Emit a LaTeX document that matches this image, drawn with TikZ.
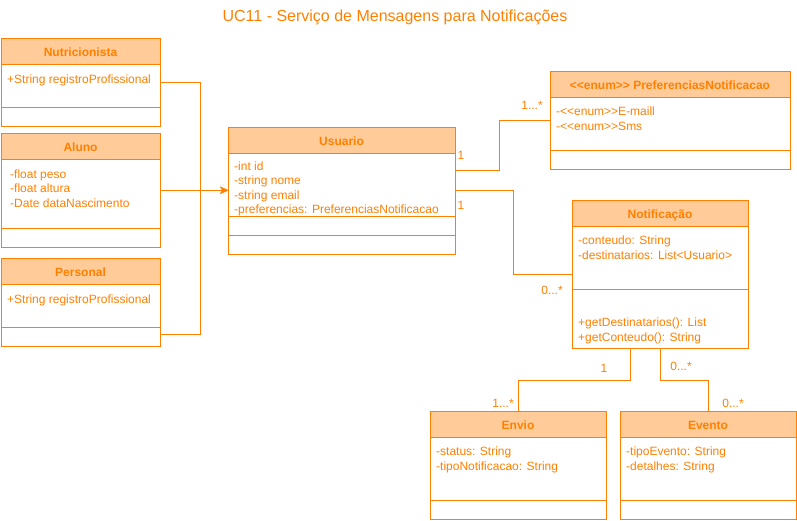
\documentclass[tikz,border=0pt]{standalone}
\usepackage{fontspec}
\setmainfont{Liberation Sans}
\usepackage{xcolor}
\usepackage{tikz}
\usetikzlibrary{positioning,arrows.meta,calc}

\definecolor{umlorange}{HTML}{FF8000}
\definecolor{umlfill}{HTML}{FFCC99}

\begin{document}
\begin{tikzpicture}[
    x=1pt, y=-1pt,
    node distance=0pt,
    every node/.style={text=umlorange, font=\fontsize{12}{14.5}\selectfont},
    classhead/.style={rectangle, draw=umlorange, fill=umlfill, line width=1pt, inner sep=0pt, outer sep=0pt, minimum height=26pt, text height=10pt, text depth=0pt, anchor=north west, font=\fontsize{12}{14.5}\selectfont\bfseries},
    classbody/.style={rectangle, draw=umlorange, fill=white, line width=1pt, inner sep=0pt, outer sep=0pt},
    members/.style={anchor=north west, align=left, inner sep=0pt},
    mult/.style={inner sep=0pt},
    assoc/.style={draw=umlorange, line width=1pt},
    inherit/.style={assoc, -{Stealth[length=8pt, width=7pt, inset=2.5pt]}}
]
\useasboundingbox (0,0) rectangle (797,520);

% Title
\node[font=\fontsize{16}{19}\selectfont, anchor=base] (title) at (395,21) {UC11 - Serviço de Mensagens para Notificações};

% Nutricionista
\node[classhead, minimum width=159pt] (nutri-head) at (1,38) {Nutricionista};
\node[classbody, minimum width=159pt, minimum height=43pt, below=of nutri-head] (nutri-attr) {};
\node[classbody, minimum width=159pt, minimum height=19pt, below=of nutri-attr] (nutri-ops) {};
\node[members] (nutri-txt) at ([shift={(6,10.5)}]nutri-attr.north west) {+String registroProfissional};

% Aluno
\node[classhead, minimum width=159pt] (aluno-head) at (1,133) {Aluno};
\node[classbody, minimum width=159pt, minimum height=69pt, below=of aluno-head] (aluno-attr) {};
\node[classbody, minimum width=159pt, minimum height=19pt, below=of aluno-attr] (aluno-ops) {};
\node[members] (aluno-txt) at ([shift={(9,10.5)}]aluno-attr.north west) {-float peso\\-float altura\\-Date dataNascimento};

% Personal
\node[classhead, minimum width=159pt] (personal-head) at (1,258) {Personal};
\node[classbody, minimum width=159pt, minimum height=43pt, below=of personal-head] (personal-attr) {};
\node[classbody, minimum width=159pt, minimum height=19pt, below=of personal-attr] (personal-ops) {};
\node[members] (personal-txt) at ([shift={(6,10.5)}]personal-attr.north west) {+String registroProfissional};

% Usuario
\node[classhead, minimum width=227pt] (usuario-head) at (228,127) {Usuario};
\node[classbody, minimum width=227pt, minimum height=63pt, below=of usuario-head] (usuario-attr) {};
\node[classbody, minimum width=227pt, minimum height=19pt, below=of usuario-attr] (usuario-mid) {};
\node[classbody, minimum width=227pt, minimum height=19pt, below=of usuario-mid] (usuario-ops) {};
\node[members] (usuario-txt) at ([shift={(6,8.5)}]usuario-attr.north west) {-int id\\-string nome\\-string email\\-preferencias: PreferenciasNotificacao};

% PreferenciasNotificacao
\node[classhead, minimum width=240pt] (pref-head) at (550,71) {<\kern0pt<enum>\kern0pt> PreferenciasNotificacao};
\node[classbody, minimum width=240pt, minimum height=53pt, below=of pref-head] (pref-attr) {};
\node[classbody, minimum width=240pt, minimum height=19pt, below=of pref-attr] (pref-ops) {};
\node[members] (pref-txt) at ([shift={(6,10)}]pref-attr.north west) {-<\kern0pt<enum>\kern0pt>E-maill\\-<\kern0pt<enum>\kern0pt>Sms};

% Notificacao
\node[classhead, minimum width=176pt] (notif-head) at (572,200) {Notificação};
\node[classbody, minimum width=176pt, minimum height=63pt, below=of notif-head] (notif-attr) {};
\node[classbody, minimum width=176pt, minimum height=59pt, below=of notif-attr] (notif-ops) {};
\node[members] (notif-txt) at ([shift={(6,10)}]notif-attr.north west) {-conteudo: String\\-destinatarios: List<Usuario>};
\node[members] (notif-meth) at ([shift={(6,29)}]notif-ops.north west) {+getDestinatarios(): List\\+getConteudo(): String};

% Envio
\node[classhead, minimum width=176pt] (envio-head) at (430,411) {Envio};
\node[classbody, minimum width=176pt, minimum height=63pt, below=of envio-head] (envio-attr) {};
\node[classbody, minimum width=176pt, minimum height=19pt, below=of envio-attr] (envio-ops) {};
\node[members] (envio-txt) at ([shift={(6,10)}]envio-attr.north west) {-status: String\\-tipoNotificacao: String};

% Evento
\node[classhead, minimum width=176pt] (evento-head) at (620,411) {Evento};
\node[classbody, minimum width=176pt, minimum height=63pt, below=of evento-head] (evento-attr) {};
\node[classbody, minimum width=176pt, minimum height=19pt, below=of evento-attr] (evento-ops) {};
\node[members] (evento-txt) at ([shift={(6,10)}]evento-attr.north west) {-tipoEvento: String\\-detalhes: String};

% Side points of the classes
\coordinate (nutri-e) at ($(nutri-head.north east)!.5!(nutri-ops.south east)$);
\coordinate (aluno-e) at ($(aluno-head.north east)!.5!(aluno-ops.south east)$);
\coordinate (usuario-w) at ($(usuario-head.north west)!.5!(usuario-ops.south west)$);
\coordinate (usuario-e) at ($(usuario-head.north east)!.5!(usuario-ops.south east)$);
\coordinate (pref-w) at ($(pref-head.north west)!.5!(pref-ops.south west)$);
\coordinate (notif-w) at ($(notif-head.north west)!.5!(notif-ops.south west)$);

% Generalisation
\draw[inherit] (nutri-e) -- ++(40,0) |- (usuario-w);
\draw[inherit] (aluno-e) -- (aluno-e -| usuario-w);
\draw[inherit] ([yshift=2pt]personal-ops.east) -- ++(40,0) |- (usuario-w);

% Associations
\draw[assoc] ([yshift=20pt]usuario-e) -- ++(44,0) |- (pref-w);
\draw[assoc] (usuario-e) -- ++(58,0) |- (notif-w);
\draw[assoc] ([xshift=-30pt]notif-ops.south) -- ++(0,32) -| (envio-head.north);
\draw[assoc] (notif-ops.south) -- ++(0,32) -| (evento-head.north);

% Multiplicities
\node[mult] (m-usr-pref) at (461,155) {1};
\node[mult] (m-pref) at (532,105) {1...*};
\node[mult] (m-usr-notif) at (461,205) {1};
\node[mult] (m-notif) at (552,290) {0...*};
\node[mult] (m-notif-envio) at (604,368) {1};
\node[mult] (m-envio) at (503,403) {1...*};
\node[mult] (m-notif-evento) at (681,366) {0...*};
\node[mult] (m-evento) at (733,403) {0...*};

\end{tikzpicture}
\end{document}
